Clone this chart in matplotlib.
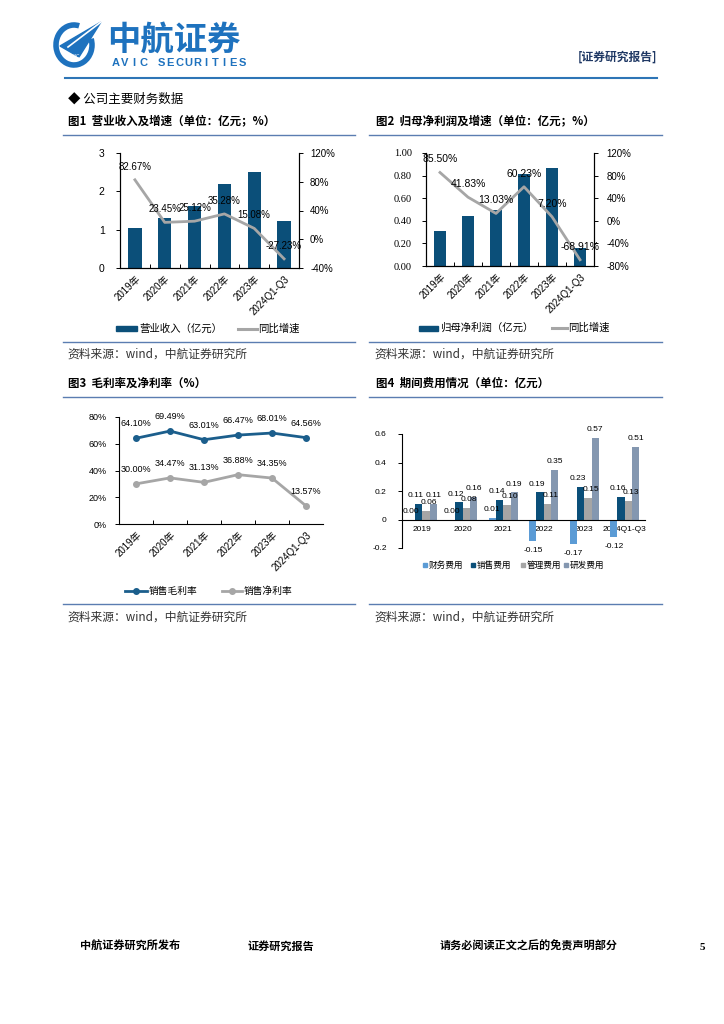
import matplotlib
matplotlib.use('Agg')
import matplotlib.pyplot as plt
from matplotlib.patches import Rectangle, Arc, Polygon
from matplotlib.lines import Line2D
import numpy as np

W, H = 724, 1024
CJK = 'Noto Sans CJK SC'
SANS = ['Liberation Sans', CJK]
SERIF = ['Liberation Serif', CJK]
plt.rcParams['font.family'] = SANS
plt.rcParams['axes.unicode_minus'] = False

# ---------------- data ----------------
years1 = ['2019年', '2020年', '2021年', '2022年', '2023年', '2024Q1-Q3']
revenue = [1.05, 1.30, 1.62, 2.18, 2.51, 1.22]
revenue_yoy = [82.67, 23.45, 25.12, 35.28, 15.08, -27.23]
rev_ticks = [0, 1, 2, 3]
rev_yoy_ticks = [-40, 0, 40, 80, 120]

netprofit = [0.31, 0.44, 0.50, 0.81, 0.87, 0.16]
netprofit_yoy = [85.50, 41.83, 13.03, 60.23, 7.20, -68.91]
np_ticks = [0.0, 0.2, 0.4, 0.6, 0.8, 1.0]
np_yoy_ticks = [-80, -40, 0, 40, 80, 120]

gross_margin = [64.10, 69.49, 63.01, 66.47, 68.01, 64.56]
net_margin = [30.00, 34.47, 31.13, 36.88, 34.35, 13.57]
margin_ticks = [0, 20, 40, 60, 80]

years4 = ['2019', '2020', '2021', '2022', '2023', '2024Q1-Q3']
fin_exp = [0.00, 0.00, 0.01, -0.15, -0.17, -0.12]
sales_exp = [0.11, 0.12, 0.14, 0.19, 0.23, 0.16]
admin_exp = [0.06, 0.08, 0.10, 0.11, 0.15, 0.13]
rd_exp = [0.11, 0.16, 0.19, 0.35, 0.57, 0.51]
exp_names = ['财务费用', '销售费用', '管理费用', '研发费用']
exp_ticks = [-0.2, 0, 0.2, 0.4, 0.6]

# ---------------- colours ----------------
BAR = '#0B4F79'
GRAY = '#A6A6A6'
LINEBLUE = '#1B5E8C'
RULE = '#5B7DB1'
LOGO = '#1E72BE'
EXP_COLORS = ['#5B9BD5', '#0B4F79', '#A5A5A5', '#8497B0']

fig = plt.figure(figsize=(W / 100, H / 100), dpi=100)
bg = fig.add_axes([0, 0, 1, 1], zorder=0)
bg.set_xlim(0, W)
bg.set_ylim(H, 0)
bg.axis('off')


def pax(l, t, r, b):
    return fig.add_axes([l / W, 1 - b / H, (r - l) / W, (b - t) / H], zorder=2)


def hline(y, x0, x1, color=RULE, lw=1.0):
    bg.add_line(Line2D([x0, x1], [y, y], color=color, lw=lw))


def txt(x, y, s, size=8.5, weight='normal', family=None, color='black', ha='left', va='center'):
    bg.text(x, y, s, fontsize=size, fontweight=weight, color=color, ha=ha, va=va,
            family=family if family else [CJK, 'DejaVu Sans'])


# ---------------- header ----------------
bg.add_patch(Arc((74, 45), 36, 40, theta1=340, theta2=645, color=LOGO, lw=4))
bg.add_patch(Polygon([(60, 46), (101, 22), (79, 57)], closed=True, color=LOGO))
bg.add_line(Line2D([68, 101], [47, 22], color='white', lw=1.2))
bg.text(75, 56, 'AVIC', fontsize=3.5, color='white', ha='center', va='center', family='DejaVu Sans')
txt(107, 41, '中航证券', size=24, weight='bold', color=LOGO)
brand = 'AVIC SECURITIES'
for i, ch in enumerate(brand):
    bg.text(116 + i * 9.0, 63, ch, fontsize=8, fontweight='bold', color=LOGO,
            ha='center', va='center', family='Liberation Sans')
txt(657, 57, '[证券研究报告]', size=8.5, weight='bold', color='#1F3864', ha='right')
hline(78, 65, 657, color='#2E75B6', lw=1.5)

txt(68, 99, '◆ 公司主要财务数据', size=9, family=[CJK, 'DejaVu Sans'])

# titles and rules
txt(68, 121, '图1  营业收入及增速（单位：亿元；%）', size=8.3, weight='bold')
txt(376, 121, '图2  归母净利润及增速（单位：亿元；%）', size=8.3, weight='bold')
hline(135, 63, 355)
hline(135, 369, 662)
hline(342, 63, 355)
hline(342, 369, 662)
txt(67, 354, '资料来源：wind，中航证券研究所', size=8.5, color='#333333')
txt(374, 354, '资料来源：wind，中航证券研究所', size=8.5, color='#333333')

txt(68, 383, '图3  毛利率及净利率（%）', size=8.3, weight='bold')
txt(376, 383, '图4  期间费用情况（单位：亿元）', size=8.3, weight='bold')
hline(397, 63, 355)
hline(397, 369, 662)
hline(604, 63, 355)
hline(604, 369, 662)
txt(67, 617, '资料来源：wind，中航证券研究所', size=8.5, color='#333333')
txt(374, 617, '资料来源：wind，中航证券研究所', size=8.5, color='#333333')

# footer
txt(80, 946, '中航证券研究所发布', size=8, weight='bold')
txt(248, 946, '证券研究报告', size=8, weight='bold')
txt(440, 946, '请务必阅读正文之后的免责声明部分', size=8, weight='bold')
bg.text(700, 948, '5', fontsize=8, fontweight='bold', family='Liberation Serif', va='center')


def style_xcat(ax, labels, size, rot=45):
    n = len(labels)
    ax.set_xlim(-0.5, n - 0.5)
    ax.set_xticks(range(n))
    ax.set_xticklabels(labels, rotation=rot, ha='right', va='top', rotation_mode='anchor',
                       fontsize=size, family=SANS)
    ax.tick_params(axis='x', length=0, pad=4)
    ax.set_xticks(np.arange(0.5, n - 0.5, 1), minor=True)
    ax.tick_params(axis='x', which='minor', direction='in', length=3, width=0.7)


# ---------------- chart 1 ----------------
x = np.arange(len(years1))
ax1 = pax(120, 153, 299, 268)
ax1.bar(x, revenue, width=0.45, color=BAR, zorder=2)
ax1.set_ylim(0, 3)
ax1.set_yticks(rev_ticks)
ax1.set_yticklabels([str(v) for v in rev_ticks], fontsize=7.5)
style_xcat(ax1, years1, 7)
ax1.tick_params(axis='y', length=3, width=0.7, pad=8)
ax1b = ax1.twinx()
ax1b.set_zorder(3)
ax1b.plot(x, revenue_yoy, color=GRAY, lw=2)
ax1b.set_ylim(-40, 120)
ax1b.set_yticks(rev_yoy_ticks)
ax1b.set_yticklabels([f'{v}%' for v in rev_yoy_ticks], fontsize=7)
ax1b.tick_params(axis='y', length=3, width=0.7, pad=5)
for i, v in enumerate(revenue_yoy):
    ax1b.annotate(f'{v:.2f}%', (i, v), xytext=(0, 9.5), textcoords='offset points',
                  ha='center', va='center', fontsize=7)
for a in (ax1, ax1b):
    a.spines['top'].set_visible(False)
    for s in a.spines.values():
        s.set_linewidth(0.8)
bg.add_patch(Rectangle((116, 326), 21, 5, color=BAR))
txt(139, 329, '营业收入（亿元）', size=7.5)
hline(329, 238, 257, color=GRAY, lw=2.2)
txt(258, 329, '同比增速', size=7.5)

# ---------------- chart 2 ----------------
ax2 = pax(426, 153, 594, 266)
ax2.bar(x, netprofit, width=0.45, color=BAR, zorder=2)
ax2.set_ylim(0, 1.0)
ax2.set_yticks(np_ticks)
ax2.set_yticklabels([f'{v:.2f}' for v in np_ticks], fontsize=7.5, family='Liberation Serif')
style_xcat(ax2, years1, 7)
ax2.tick_params(axis='y', length=3, width=0.7, pad=7)
ax2b = ax2.twinx()
ax2b.set_zorder(3)
ax2b.plot(x, netprofit_yoy, color=GRAY, lw=2)
ax2b.set_ylim(-80, 120)
ax2b.set_yticks(np_yoy_ticks)
ax2b.set_yticklabels([f'{v}%' for v in np_yoy_ticks], fontsize=7)
ax2b.tick_params(axis='y', length=3, width=0.7, pad=6)
for i, v in enumerate(netprofit_yoy):
    ax2b.annotate(f'{v:.2f}%', (i, v), xytext=(0, 9.5), textcoords='offset points',
                  ha='center', va='center', fontsize=7.5)
for a in (ax2, ax2b):
    a.spines['top'].set_visible(False)
    for s in a.spines.values():
        s.set_linewidth(0.8)
bg.add_patch(Rectangle((419, 326), 19, 5, color=BAR))
txt(440, 328, '归母净利润（亿元）', size=7.5)
hline(328, 552, 567, color=GRAY, lw=2.2)
txt(568, 328, '同比增速', size=7.5)

# ---------------- chart 3 ----------------
ax3 = pax(119, 417, 323, 524)
ax3.plot(x, gross_margin, color=LINEBLUE, lw=2, marker='o', ms=4)
ax3.plot(x, net_margin, color=GRAY, lw=2, marker='o', ms=4)
ax3.set_ylim(0, 80)
ax3.set_yticks(margin_ticks)
ax3.set_yticklabels([f'{v}%' for v in margin_ticks], fontsize=6.5)
ax3.tick_params(axis='y', length=3, width=0.7, pad=6)
style_xcat(ax3, years1, 7)
for i, v in enumerate(gross_margin):
    ax3.annotate(f'{v:.2f}%', (i, v), xytext=(0, 10.5), textcoords='offset points',
                 ha='center', va='center', fontsize=6.5)
for i, v in enumerate(net_margin):
    ax3.annotate(f'{v:.2f}%', (i, v), xytext=(0, 10.5), textcoords='offset points',
                 ha='center', va='center', fontsize=6.5)
ax3.spines['top'].set_visible(False)
ax3.spines['right'].set_visible(False)
for s in ax3.spines.values():
    s.set_linewidth(0.8)
bg.add_line(Line2D([125, 147], [591, 591], color=LINEBLUE, lw=2))
bg.plot([136], [591], marker='o', ms=4, color=LINEBLUE)
txt(149, 591, '销售毛利率', size=7)
bg.add_line(Line2D([222, 242], [591, 591], color=GRAY, lw=2))
bg.plot([232], [591], marker='o', ms=4, color=GRAY)
txt(244, 591, '销售净利率', size=7)

# ---------------- chart 4 ----------------
ax4 = pax(402, 434, 645, 548)
bw = 0.18
series4 = [fin_exp, sales_exp, admin_exp, rd_exp]
nudge = [0, -2, 2, 0]
for k, (vals, col) in enumerate(zip(series4, EXP_COLORS)):
    xs = x + (k - 1.5) * bw
    ax4.bar(xs, vals, width=bw, color=col, zorder=2)
    for xi, v in zip(xs, vals):
        if v < 0:
            ax4.annotate(f'{v:.2f}', (xi, v), xytext=(0, -7), textcoords='offset points',
                         ha='center', va='center', fontsize=6)
        else:
            ax4.annotate(f'{v:.2f}', (xi, v), xytext=(nudge[k], 6), textcoords='offset points',
                         ha='center', va='center', fontsize=6)
ax4.set_ylim(-0.2, 0.6)
ax4.set_xlim(-0.5, 5.5)
ax4.set_yticks(exp_ticks)
ax4.set_yticklabels(['-0.2', '0', '0.2', '0.4', '0.6'], fontsize=6)
ax4.tick_params(axis='y', length=3, width=0.7, pad=8)
ax4.spines['top'].set_visible(False)
ax4.spines['right'].set_visible(False)
ax4.spines['bottom'].set_position(('data', 0))
ax4.set_xticks(x)
ax4.set_xticklabels(years4, fontsize=6)
ax4.tick_params(axis='x', length=0, pad=5)
for s in ax4.spines.values():
    s.set_linewidth(0.8)
leg_x = [425, 473, 523, 566]
for lx, name, col in zip(leg_x, exp_names, EXP_COLORS):
    bg.add_patch(Rectangle((lx - 2, 563), 4, 4, color=col))
    txt(lx + 4, 565, name, size=6.2)

fig.savefig('out.png', dpi=100)
